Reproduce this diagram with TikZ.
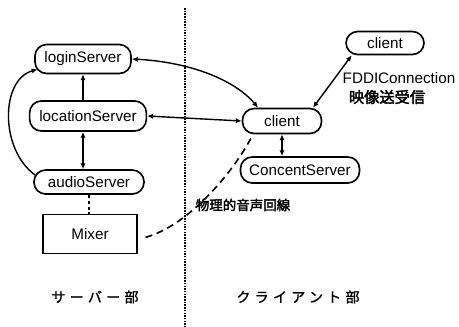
\documentclass[tikz,border=0pt]{standalone}
\usepackage{fontspec}
\setmainfont{Liberation Sans}
\newfontfamily\cjk{Noto Sans CJK JP}[LetterSpace=30,FakeBold=1.2]
\newfontfamily\cjkb{Noto Sans CJK JP}[FakeBold=2.5]
\usetikzlibrary{arrows.meta}
\begin{document}
\begin{tikzpicture}[x=0.03cm,y=-0.03cm,
  box/.style={draw,line width=1.4pt,rounded corners=0.35cm,inner sep=0pt,
    font=\fontsize{13}{15}\selectfont},
  tip/.style={line width=1.2pt,-{Latex[length=5pt,width=4.5pt]}},
  tips/.style={line width=1.2pt,{Latex[length=5pt,width=4.5pt]}-{Latex[length=5pt,width=4.5pt]}},
  lbl/.style={inner sep=0pt,font=\fontsize{13}{15}\selectfont},
  jlbl/.style={inner sep=0pt,font=\cjkb\fontsize{11.5}{13}\selectfont},
  part/.style={inner sep=0pt,font=\cjk\fontsize{12}{14}\selectfont}]
\useasboundingbox (0,0) rectangle (459,326);
% divider
\coordinate (dtop) at (185,8);
\coordinate (dbot) at (185,326);
\draw[densely dotted,line width=1.3pt] (dtop) -- (dbot);
% nodes
\node[box,minimum width=2.88cm,minimum height=0.87cm] (login) at (83,59) {loginServer};
\node[box,minimum width=3.5cm,minimum height=0.9cm] (loc) at (88,116) {locationServer};
\node[box,minimum width=3.3cm,minimum height=0.72cm] (audio) at (89,182) {audioServer};
\node[draw,line width=1pt,minimum width=2.82cm,minimum height=1.17cm,inner sep=0pt,
  font=\fontsize{13}{15}\selectfont] (mixer) at (90,234) {Mixer};
\node[box,minimum width=2.37cm,minimum height=0.75cm] (client) at (282,121) {client};
\node[box,minimum width=2.34cm,minimum height=0.69cm] (client2) at (385,43) {client};
\node[box,minimum width=3.57cm,minimum height=0.78cm] (concent) at (300,170) {ConcentServer};
% labels
\node[lbl] (fddi) at (399,78) {FDDIConnection};
\node[jlbl,font=\cjkb\fontsize{13}{15}\selectfont] (eizo) at (387,97) {映像送受信};
\node[jlbl] (butsuri) at (243,205) {物理的音声回線};
\node[part] (server) at (95,297) {サーバー部};
\node[part] (clientpart) at (298,297) {クライアント部};
% connectors
\draw[tips] (login.east) .. controls (190,62) and (235,80) .. ([xshift=-0.72cm]client.north);
\draw[tips] (loc.east) -- (client.west);
\draw[tip] (login.south |- loc.north) -- (login.south);
\draw[tips] (login.south |- loc.south) -- (login.south |- audio.north);
\draw[tip] ([xshift=0.06cm,yshift=0.21cm]audio.west) .. controls (0,150) and (0,80) .. ([xshift=0.1cm,yshift=0.15cm]login.south west);
\draw[densely dashed,line width=1.2pt] (audio.south |- audio.south) -- (audio.south |- mixer.north);
\draw[dashed,line width=1.4pt,dash pattern=on 6pt off 4pt] ([xshift=0.24cm,yshift=-0.1cm]mixer.east) .. controls (190,225) and (235,170) .. ([xshift=-0.87cm]client.south);
\draw[tips] (client.south) -- (client.south |- concent.north);
\draw[tips] ([xshift=0.93cm]client.north) -- ([xshift=-1.0cm]client2.south);
\end{tikzpicture}
\end{document}
